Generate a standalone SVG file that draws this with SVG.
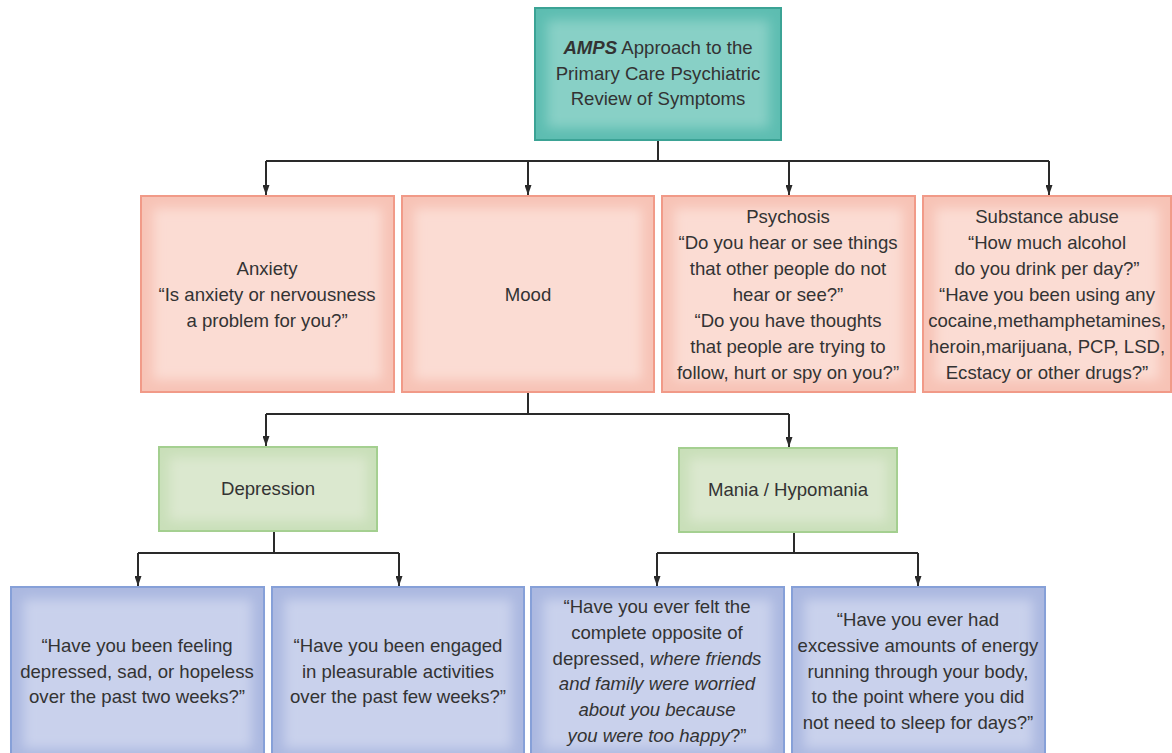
<svg xmlns="http://www.w3.org/2000/svg" width="1172" height="753" viewBox="0 0 1172 753">
<style>
text{font-family:"Liberation Sans",Arial,sans-serif;font-size:18.6px;fill:#333;text-anchor:middle}
.i{font-style:italic}
.b{font-weight:bold;font-style:italic}
.conn{fill:none;stroke:#2a2a2a;stroke-width:2}
.teal{fill:#5dbdb1;stroke:#3ba395;stroke-width:2}
.tealin{fill:#88d0c6}
.pink{fill:#f7c3b6;stroke:#f19a88;stroke-width:2}
.pinkin{fill:#fbdcd3}
.green{fill:#c9dfb9;stroke:#a3cf8f;stroke-width:2}
.greenin{fill:#dbe8cf}
.blue{fill:#abb8e0;stroke:#86a0d8;stroke-width:2}
.bluein{fill:#c9d1ec}
</style>
<defs>
<filter id="soft" x="-20%" y="-20%" width="140%" height="140%"><feGaussianBlur stdDeviation="6"/></filter>
<marker id="arr" viewBox="0 0 10 10" refX="10" refY="5" markerWidth="10" markerHeight="7" markerUnits="userSpaceOnUse" orient="auto" preserveAspectRatio="none"><path d="M0,0 L10,5 L0,10 z" fill="#2a2a2a"/></marker>
</defs>
<g id="connectors">
<path class="conn" d="M658 140 V161 M266 161 H1049"/>
<path class="conn" d="M266 161 V195" marker-end="url(#arr)"/>
<path class="conn" d="M528 161 V195" marker-end="url(#arr)"/>
<path class="conn" d="M789 161 V195" marker-end="url(#arr)"/>
<path class="conn" d="M1049 161 V195" marker-end="url(#arr)"/>
<path class="conn" d="M528 392 V414 M266 414 H789"/>
<path class="conn" d="M266 414 V446" marker-end="url(#arr)"/>
<path class="conn" d="M789 414 V447" marker-end="url(#arr)"/>
<path class="conn" d="M274 531 V553 M138 553 H399"/>
<path class="conn" d="M138 553 V586" marker-end="url(#arr)"/>
<path class="conn" d="M399 553 V586" marker-end="url(#arr)"/>
<path class="conn" d="M794 532 V553 M657 553 H918"/>
<path class="conn" d="M657 553 V586" marker-end="url(#arr)"/>
<path class="conn" d="M918 553 V586" marker-end="url(#arr)"/>
</g>
<g id="amps">
<rect class="teal" x="535" y="8" width="246" height="132"/>
<rect class="tealin" x="547" y="20" width="222" height="108" filter="url(#soft)"/>
<text x="658" y="54"><tspan class="b">AMPS</tspan> Approach to the</text>
<text x="658" y="80">Primary Care Psychiatric</text>
<text x="658" y="105">Review of Symptoms</text>
</g>
<g id="anxiety">
<rect class="pink" x="141" y="196" width="253" height="196"/>
<rect class="pinkin" x="153" y="208" width="229" height="172" filter="url(#soft)"/>
<text x="267" y="275">Anxiety</text>
<text x="267" y="301">“Is anxiety or nervousness</text>
<text x="267" y="327">a problem for you?”</text>
</g>
<g id="mood">
<rect class="pink" x="402" y="196" width="252" height="196"/>
<rect class="pinkin" x="414" y="208" width="228" height="172" filter="url(#soft)"/>
<text x="528" y="301">Mood</text>
</g>
<g id="psychosis">
<rect class="pink" x="662" y="196" width="253" height="196"/>
<rect class="pinkin" x="674" y="208" width="229" height="172" filter="url(#soft)"/>
<text x="788" y="223">Psychosis</text>
<text x="788" y="249">“Do you hear or see things</text>
<text x="788" y="275">that other people do not</text>
<text x="788" y="301">hear or see?”</text>
<text x="788" y="327">“Do you have thoughts</text>
<text x="788" y="353">that people are trying to</text>
<text x="788" y="379">follow, hurt or spy on you?”</text>
</g>
<g id="substance">
<rect class="pink" x="923" y="196" width="248" height="196"/>
<rect class="pinkin" x="935" y="208" width="224" height="172" filter="url(#soft)"/>
<text x="1047" y="223">Substance abuse</text>
<text x="1047" y="249">“How much alcohol</text>
<text x="1047" y="275">do you drink per day?”</text>
<text x="1047" y="301">“Have you been using any</text>
<text x="1047" y="327">cocaine,methamphetamines,</text>
<text x="1047" y="353">heroin,marijuana, PCP, LSD,</text>
<text x="1047" y="379">Ecstacy or other drugs?”</text>
</g>
<g id="depression">
<rect class="green" x="159" y="447" width="218" height="84"/>
<rect class="greenin" x="169" y="457" width="198" height="64" filter="url(#soft)"/>
<text x="268" y="495">Depression</text>
</g>
<g id="mania">
<rect class="green" x="679" y="448" width="218" height="84"/>
<rect class="greenin" x="689" y="458" width="198" height="64" filter="url(#soft)"/>
<text x="788" y="496">Mania / Hypomania</text>
</g>
<g id="dep-q1">
<rect class="blue" x="11" y="587" width="253" height="175"/>
<rect class="bluein" x="23" y="599" width="229" height="150" filter="url(#soft)"/>
<text x="137" y="652">“Have you been feeling</text>
<text x="137" y="678">depressed, sad, or hopeless</text>
<text x="137" y="703">over the past two weeks?”</text>
</g>
<g id="dep-q2">
<rect class="blue" x="272" y="587" width="252" height="175"/>
<rect class="bluein" x="284" y="599" width="228" height="150" filter="url(#soft)"/>
<text x="398" y="652">“Have you been engaged</text>
<text x="398" y="678">in pleasurable activities</text>
<text x="398" y="703">over the past few weeks?”</text>
</g>
<g id="mania-q1">
<rect class="blue" x="531" y="587" width="253" height="175"/>
<rect class="bluein" x="543" y="599" width="229" height="150" filter="url(#soft)"/>
<text x="657" y="613">“Have you ever felt the</text>
<text x="657" y="639">complete opposite of</text>
<text x="657" y="665">depressed, <tspan class="i">where friends</tspan></text>
<text x="657" y="690" class="i">and family were worried</text>
<text x="657" y="716" class="i">about you because</text>
<text x="657" y="742"><tspan class="i">you were too happy</tspan>?”</text>
</g>
<g id="mania-q2">
<rect class="blue" x="792" y="587" width="253" height="175"/>
<rect class="bluein" x="804" y="599" width="229" height="150" filter="url(#soft)"/>
<text x="918" y="626">“Have you ever had</text>
<text x="918" y="652">excessive amounts of energy</text>
<text x="918" y="678">running through your body,</text>
<text x="918" y="703">to the point where you did</text>
<text x="918" y="729">not need to sleep for days?”</text>
</g>
</svg>
